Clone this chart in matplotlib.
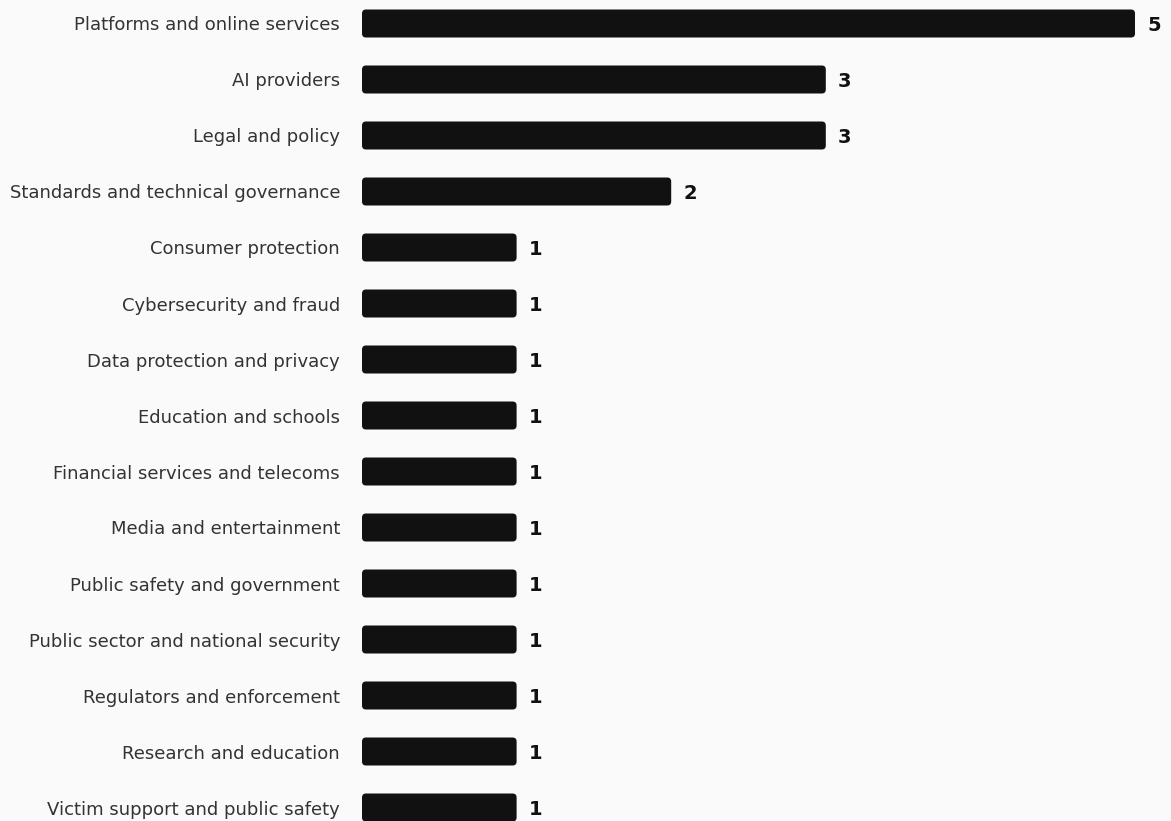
import matplotlib
matplotlib.use("Agg")
import matplotlib.pyplot as plt
from matplotlib.patches import FancyBboxPatch

categories = [
    "Platforms and online services",
    "AI providers",
    "Legal and policy",
    "Standards and technical governance",
    "Consumer protection",
    "Cybersecurity and fraud",
    "Data protection and privacy",
    "Education and schools",
    "Financial services and telecoms",
    "Media and entertainment",
    "Public safety and government",
    "Public sector and national security",
    "Regulators and enforcement",
    "Research and education",
    "Victim support and public safety",
]
values = [5, 3, 3, 2, 1, 1, 1, 1, 1, 1, 1, 1, 1, 1, 1]

W, H = 1171, 821
bg = "#fafafa"
fig = plt.figure(figsize=(W / 100, H / 100), dpi=100, facecolor=bg)
ax = fig.add_axes([362 / W, 0, 1 - 362 / W, 1])
ax.set_facecolor(bg)

unit = 154.6  # px per value unit
step = 56.0   # px per row
xmax = (W - 362) / unit
ax.set_xlim(0, xmax)
ax.set_ylim((H - 23.5) / step, -23.5 / step)

bh = 0.5
r_px = 4.0
rx = r_px / unit
ry = r_px / step
ys = list(range(len(categories)))
bars = ax.barh(ys, values, height=bh, color="none")
for b, v in zip(bars, values):
    x0, y0 = b.get_x(), b.get_y()
    w, h = b.get_width(), b.get_height()
    p = FancyBboxPatch((x0, y0), w, h,
                       boxstyle=f"round,pad=0,rounding_size={rx}",
                       mutation_aspect=ry / rx,
                       facecolor="#111111", edgecolor="none")
    ax.add_patch(p)
    ax.text(v + 12 / unit, b.get_y() + h / 2, str(v), va="center_baseline", ha="left",
            fontsize=14, fontweight="bold", color="#111111")

ax.set_yticks(ys)
ax.set_yticklabels(categories, fontsize=13, color="#333333")
ax.tick_params(axis="y", length=0, pad=15.8)
ax.set_xticks([])
for s in ax.spines.values():
    s.set_visible(False)

fig.savefig("out.png", dpi=100, facecolor=bg)
